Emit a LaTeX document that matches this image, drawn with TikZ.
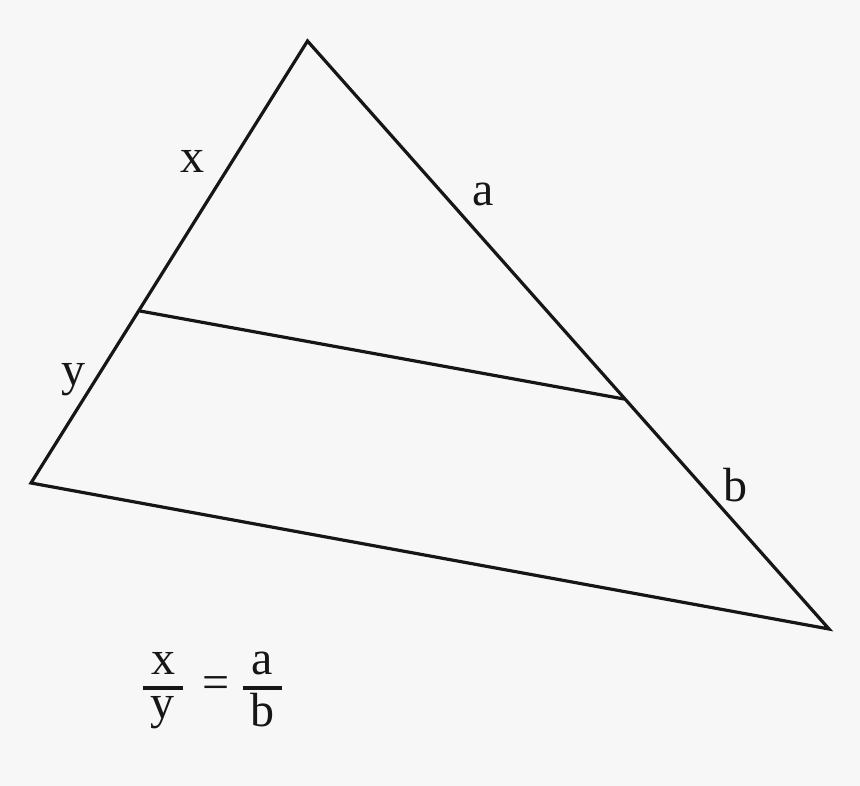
\documentclass[tikz,border=0pt]{standalone}
\usepackage{xcolor}
\usepackage{tikz}
\usepackage{fontspec}
\setmainfont{Liberation Serif}
\definecolor{pagegray}{RGB}{247,247,247}
\definecolor{inkblack}{RGB}{22,22,22}

\begin{document}
\begin{tikzpicture}[x=1pt,y=-1pt,
  edge/.style={draw=inkblack, line width=3.2pt, line join=miter},
  lbl/.style={anchor=base, inner sep=0pt, text=inkblack, font=\fontsize{48}{52}\selectfont},
  bar/.style={draw=inkblack, line width=4pt}]
% Page
\fill[pagegray] (0,0) rectangle (860,786);
\useasboundingbox (0,0) rectangle (860,786);

% Corners of the triangle
\coordinate (top) at (307.5,41);
\coordinate (left) at (31,483);
\coordinate (right) at (829,629);
\coordinate (pl) at (140,311);
\coordinate (pr) at (624,399);

% Triangle and parallel segment
\draw[edge] (top) -- (left) -- (right) -- cycle;
\draw[edge] (pl) -- (pr);

% Side labels
\node[lbl] (lx) at (192,173) {x};
\node[lbl] (ly) at (73,386) {y};
\node[lbl] (la) at (483,206) {a};
\node[lbl] (lb) at (735,501) {b};

% Ratio
\node[lbl] (fx) at (163,674) {x};
\node[lbl] (fy) at (162,718) {y};
\node[lbl] (fa) at (262,674) {a};
\node[lbl] (fb) at (262,726) {b};
\node[lbl, anchor=center] (eq) at (216,688) {=};
\draw[bar] (143,688) -- (183,688);
\draw[bar] (243,688) -- (282,688);
\end{tikzpicture}
\end{document}
